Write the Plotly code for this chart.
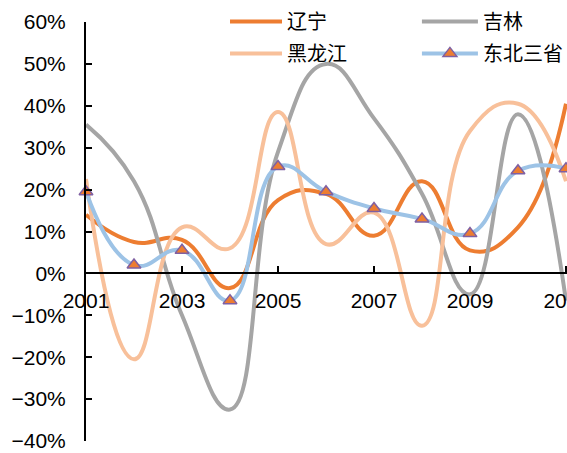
import plotly.graph_objects as go

# Year-on-year growth, 2001-2011
years = list(range(2001, 2012))
liaoning = [14.0, 7.5, 8.0, -3.5, 17.5, 19.0, 9.0, 22.0, 5.5, 11.0, 40.5]
jilin = [35.5, 22.0, -10.0, -32.5, 29.0, 50.0, 37.0, 19.0, -5.0, 38.0, -6.5]
heilongjiang = [22.5, -20.5, 11.0, 6.0, 38.5, 7.0, 14.5, -12.5, 34.0, 40.5, 22.0]
dongbei = [19.5, 2.0, 5.5, -6.5, 25.5, 19.5, 15.5, 13.0, 9.5, 24.5, 25.0]

# name, values, colour, markers?, legend column
series = [
    ("辽宁", liaoning, "#ED7D31", False, "legend"),
    ("吉林", jilin, "#A5A5A5", False, "legend2"),
    ("黑龙江", heilongjiang, "#F8C09A", False, "legend"),
    ("东北三省", dongbei, "#9DC3E6", True, "legend2"),
]

fig = go.Figure()
for name, vals, color, with_marker, leg in series:
    fig.add_trace(go.Scatter(
        x=years,
        y=[v / 100 for v in vals],
        name=name,
        legend=leg,
        legendgroup=name,
        mode="lines+markers" if with_marker else "lines",
        line=dict(color=color, width=4, shape="spline", smoothing=1.3),
        marker=dict(symbol="triangle-up", size=12, color="#ED7D31",
                    line=dict(color="#7F60A2", width=1.5)),
        cliponaxis=False,
    ))

font_main = "Liberation Sans, Arial, sans-serif"
font_cjk = "Noto Sans CJK SC, sans-serif"

legend_style = dict(
    orientation="v",
    yanchor="top", y=1.048,
    xanchor="left",
    font=dict(family=font_cjk, size=20, color="#000000"),
    tracegroupgap=3,
    traceorder="grouped",
    bgcolor="rgba(0,0,0,0)",
)

fig.update_layout(
    width=567, height=453,
    margin=dict(l=86, r=0, t=22, b=12, autoexpand=False),
    paper_bgcolor="white", plot_bgcolor="white",
    font=dict(family=font_main, size=21, color="#000000"),
    showlegend=True,
    legend=dict(legend_style, x=0.289, itemwidth=52),
    legend2=dict(legend_style, x=0.688, itemwidth=56),
    xaxis=dict(
        range=[2001, 2011.021],
        tickmode="linear", tick0=2001, dtick=2,
        showline=True, linecolor="black", linewidth=2,
        ticks="inside", ticklen=6, tickwidth=2, tickcolor="black",
        showgrid=False, zeroline=False,
        anchor="free", position=0.4,
        automargin=False,
        ticklabelstandoff=8,
        ticklabeloverflow="allow",
        tickfont=dict(family=font_main, size=21),
    ),
    yaxis=dict(
        range=[-0.4, 0.6],
        tickmode="linear", tick0=-0.4, dtick=0.1,
        tickformat=".0%",
        showline=True, linecolor="black", linewidth=2,
        ticks="inside", ticklen=6, tickwidth=2, tickcolor="black",
        showgrid=False, zeroline=False,
        automargin=False,
        ticklabelstandoff=14,
        tickfont=dict(family=font_main, size=21),
    ),
)

fig.write_html("out.html")
